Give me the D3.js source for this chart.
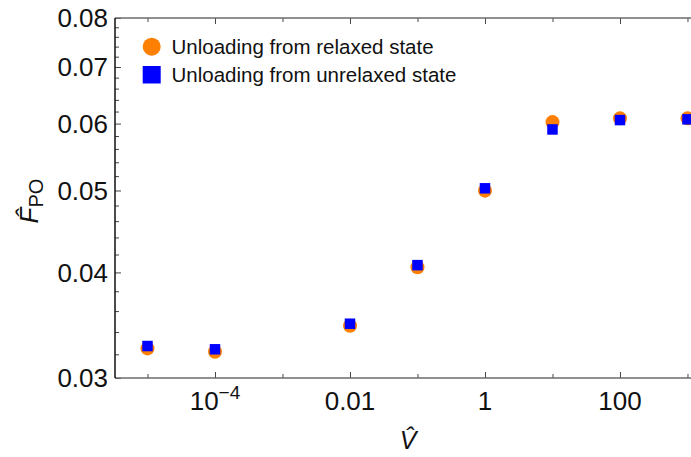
<!DOCTYPE html>
<html><head><meta charset="utf-8">
<script src="https://cdn.jsdelivr.net/npm/d3@7"></script>
<style>
html,body{margin:0;padding:0;background:#fff;}
svg{display:block;font-family:"Liberation Sans",Arial,sans-serif;}
</style></head>
<body>
<svg id="chart" width="691" height="457"></svg>
<script>
// ---- data ----
const V = [1e-5, 1e-4, 1e-2, 1e-1, 1, 10, 100, 1000];
const relaxed   = [0.03252, 0.03222, 0.03459, 0.04057, 0.04998, 0.06024, 0.06086, 0.06086];
const unrelaxed = [0.03273, 0.03244, 0.03478, 0.04080, 0.05030, 0.05905, 0.06058, 0.06070];
const seriesNames = ["Unloading from relaxed state", "Unloading from unrelaxed state"];
const xMajorTicks = [1e-4, 1e-2, 1, 100];
const xMajorLabels = [["10", "\u22124"], ["0.01"], ["1"], ["100"]];
const xMinorTicks = [1e-5, 1e-3, 1e-1, 10, 1000];
const yMajorTicks = [0.03, 0.04, 0.05, 0.06, 0.07, 0.08];
const yMajorLabels = ["0.03", "0.04", "0.05", "0.06", "0.07", "0.08"];
const yMinorTicks = [0.032,0.034,0.036,0.038,0.042,0.044,0.046,0.048,0.052,0.054,0.056,0.058,
                     0.062,0.064,0.066,0.068,0.072,0.074,0.076,0.078];

const svg = d3.select("#chart");
const L = 115, R = 707.8, T = 18, B = 378;
const x = d3.scaleLog().domain([3.3e-6, 2000]).range([L, R]);
const y = d3.scaleLog().domain([0.03, 0.08]).range([B, T]);

const orange = "#ff8000", blue = "#0000ff";
const frameCol = "#6b6b6b";

function tickLines(g){ g.select(".domain").remove(); g.selectAll("line").attr("stroke", "#444").attr("stroke-width", 1); g.selectAll("text").remove(); }

// bottom ticks (inward)
svg.append("g").attr("transform", `translate(0,${B})`)
  .call(d3.axisBottom(x).tickValues(xMajorTicks).tickSize(-6).tickFormat("")).call(tickLines);
svg.append("g").attr("transform", `translate(0,${B})`)
  .call(d3.axisBottom(x).tickValues(xMinorTicks).tickSize(-4).tickFormat("")).call(tickLines);
// top ticks (inward)
svg.append("g").attr("transform", `translate(0,${T})`)
  .call(d3.axisTop(x).tickValues(xMajorTicks).tickSize(-6).tickFormat("")).call(tickLines);
svg.append("g").attr("transform", `translate(0,${T})`)
  .call(d3.axisTop(x).tickValues(xMinorTicks).tickSize(-4).tickFormat("")).call(tickLines);
// left ticks
svg.append("g").attr("transform", `translate(${L},0)`)
  .call(d3.axisLeft(y).tickValues(yMajorTicks).tickSize(-6).tickFormat("")).call(tickLines);
svg.append("g").attr("transform", `translate(${L},0)`)
  .call(d3.axisLeft(y).tickValues(yMinorTicks).tickSize(-4).tickFormat("")).call(tickLines);

// frame
svg.append("line").attr("x1", L).attr("x2", 700).attr("y1", B).attr("y2", B).attr("stroke", frameCol).attr("stroke-width", 1.5);
svg.append("line").attr("x1", L).attr("x2", 700).attr("y1", T).attr("y2", T).attr("stroke", frameCol).attr("stroke-width", 1.5);
svg.append("line").attr("x1", L).attr("x2", L).attr("y1", T).attr("y2", B).attr("stroke", "#111").attr("stroke-width", 1.5);

// tick labels
const tickFont = 26;
svg.append("g").selectAll("text").data(yMajorTicks).join("text")
  .attr("x", L - 7).attr("y", d => y(d)).attr("dy", "0.36em")
  .attr("text-anchor", "end").attr("font-size", tickFont).attr("fill", "#111")
  .text((d, i) => yMajorLabels[i]);

const xl = svg.append("g").selectAll("text").data(xMajorTicks).join("text")
  .attr("x", d => x(d)).attr("y", 410)
  .attr("text-anchor", "middle").attr("font-size", tickFont).attr("fill", "#111");
xl.each(function(d, i){
  const t = d3.select(this);
  const lab = xMajorLabels[i];
  t.append("tspan").text(lab[0]);
  if (lab.length > 1) t.append("tspan").attr("font-size", 19).attr("dy", -11).text(lab[1]);
});

// axis titles
svg.append("text").attr("x", 408).attr("y", 449).attr("text-anchor", "middle")
  .attr("font-size", 25).attr("font-style", "italic").attr("fill", "#111").text("V\u0302");
const yt = svg.append("text").attr("transform", "translate(38,201) rotate(-90)")
  .attr("text-anchor", "middle").attr("fill", "#111");
yt.append("tspan").attr("font-size", 26).attr("font-style", "italic").text("F\u0302");
yt.append("tspan").attr("font-size", 20).attr("dy", 5).text("PO");

// data markers
const pts = V.map((v, i) => ({v, a: relaxed[i], b: unrelaxed[i]}));
svg.append("g").selectAll("circle").data(pts).join("circle")
  .attr("cx", d => x(d.v)).attr("cy", d => y(d.a)).attr("r", 7).attr("fill", orange);
const sq = 10.5;
svg.append("g").selectAll("rect").data(pts).join("rect")
  .attr("x", d => x(d.v) - sq/2).attr("y", d => y(d.b) - sq/2)
  .attr("width", sq).attr("height", sq).attr("fill", blue);

// legend
const lg = svg.append("g");
lg.append("circle").attr("cx", 151.7).attr("cy", 46.7).attr("r", 9).attr("fill", orange);
lg.append("rect").attr("x", 142.7).attr("y", 66).attr("width", 18).attr("height", 17.5).attr("fill", blue);
lg.selectAll("text").data(seriesNames).join("text")
  .attr("x", 171.5).attr("y", (d, i) => 53.5 + i * 28.3)
  .attr("font-size", 20.5).attr("fill", "#111").text(d => d);
</script>
</body></html>
